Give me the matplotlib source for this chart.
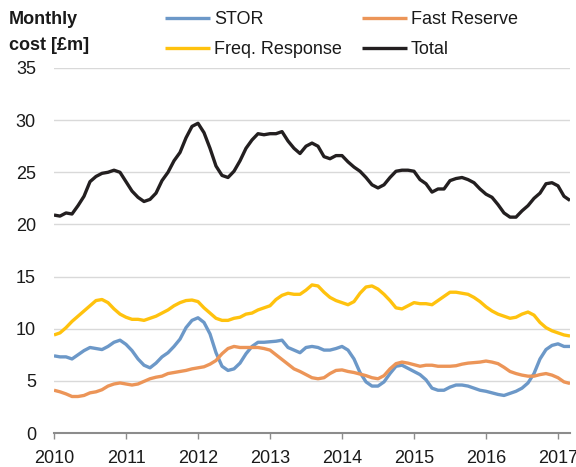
import numpy as np
import matplotlib
matplotlib.use("Agg")
import matplotlib.pyplot as plt
from matplotlib.ticker import FixedLocator

# Monthly values, Jan 2010 .. Mar 2017
start_year = 2010
stor = [7.4, 7.3, 7.3, 7.1, 7.5, 7.9, 8.2, 8.1, 8.0, 8.3, 8.7, 8.9,
        8.5, 7.9, 7.1, 6.5, 6.25, 6.7, 7.3, 7.7, 8.3, 9.0, 10.1, 10.8,
        11.05, 10.6, 9.5, 7.7, 6.4, 6.0, 6.15, 6.7, 7.6, 8.3, 8.7, 8.7,
        8.75, 8.8, 8.9, 8.2, 7.95, 7.7, 8.2, 8.3, 8.2, 7.95, 7.95, 8.1,
        8.3, 7.95, 7.1, 5.8, 4.9, 4.5, 4.5, 4.9, 5.7, 6.4, 6.5, 6.2,
        5.9, 5.6, 5.1, 4.3, 4.1, 4.1, 4.4, 4.6, 4.6, 4.5, 4.3, 4.1,
        4.0, 3.85, 3.7, 3.6, 3.8, 4.0, 4.3, 4.8, 5.7, 7.1, 8.0, 8.4,
        8.55, 8.3, 8.3]
fast_reserve = [4.1, 3.95, 3.75, 3.5, 3.5, 3.6, 3.85, 3.95, 4.15, 4.5, 4.7, 4.8,
                4.7, 4.6, 4.7, 4.95, 5.2, 5.35, 5.45, 5.7, 5.8, 5.9, 6.0, 6.15,
                6.25, 6.35, 6.6, 6.95, 7.6, 8.1, 8.3, 8.2, 8.2, 8.2, 8.2, 8.1,
                7.95, 7.5, 7.05, 6.6, 6.15, 5.9, 5.6, 5.3, 5.2, 5.3, 5.7, 6.0,
                6.05, 5.9, 5.8, 5.65, 5.5, 5.3, 5.2, 5.5, 6.15, 6.65, 6.8, 6.7,
                6.55, 6.4, 6.5, 6.5, 6.4, 6.4, 6.4, 6.45, 6.6, 6.7, 6.75, 6.8,
                6.9, 6.8, 6.65, 6.3, 5.9, 5.7, 5.55, 5.45, 5.45, 5.6, 5.7, 5.55,
                5.3, 4.9, 4.75]
freq_response = [9.4, 9.6, 10.1, 10.7, 11.2, 11.7, 12.2, 12.7, 12.8, 12.5, 11.9, 11.4,
                 11.1, 10.9, 10.9, 10.8, 11.0, 11.2, 11.5, 11.8, 12.2, 12.5, 12.7, 12.75,
                 12.6, 12.0, 11.5, 11.0, 10.8, 10.8, 11.0, 11.1, 11.4, 11.5, 11.8, 12.0,
                 12.2, 12.8, 13.2, 13.4, 13.3, 13.3, 13.7, 14.2, 14.1, 13.5, 13.0, 12.7,
                 12.5, 12.3, 12.6, 13.4, 14.0, 14.1, 13.8, 13.3, 12.7, 12.0, 11.9, 12.2,
                 12.5, 12.4, 12.4, 12.3, 12.7, 13.1, 13.5, 13.5, 13.4, 13.3, 13.0, 12.6,
                 12.1, 11.7, 11.4, 11.2, 11.0, 11.1, 11.4, 11.6, 11.3, 10.6, 10.1, 9.8,
                 9.6, 9.4, 9.3]
total = [20.9, 20.8, 21.1, 21.0, 21.8, 22.7, 24.1, 24.6, 24.9, 25.0, 25.2, 25.0,
         24.1, 23.2, 22.6, 22.2, 22.4, 23.0, 24.2, 25.0, 26.1, 26.9, 28.3, 29.4,
         29.7, 28.8, 27.3, 25.6, 24.7, 24.5, 25.1, 26.1, 27.3, 28.1, 28.7, 28.6,
         28.7, 28.7, 28.9, 28.0, 27.3, 26.8, 27.5, 27.8, 27.5, 26.5, 26.3, 26.6,
         26.6, 26.0, 25.5, 25.1, 24.5, 23.8, 23.5, 23.8, 24.5, 25.1, 25.2, 25.2,
         25.1, 24.3, 23.9, 23.1, 23.4, 23.4, 24.2, 24.4, 24.5, 24.3, 24.0, 23.4,
         22.9, 22.6, 21.9, 21.1, 20.7, 20.7, 21.3, 21.8, 22.5, 23.0, 23.9, 24.0,
         23.7, 22.7, 22.3]
year_ticks = [2010, 2011, 2012, 2013, 2014, 2015, 2016, 2017]
y_ticks = [0, 5, 10, 15, 20, 25, 30, 35]

series = [
    ("STOR", stor, "#6c98c8"),
    ("Fast Reserve", fast_reserve, "#ec9558"),
    ("Freq. Response", freq_response, "#ffc20e"),
    ("Total", total, "#231f20"),
]

plt.rcParams['font.family'] = ['Liberation Sans', 'DejaVu Sans']

fig = plt.figure(figsize=(5.76, 4.67), dpi=100)
ax = fig.add_axes([54/576, 1-433/467, (570-54)/576, (433-68)/467])

n = len(total)
x = start_year + np.arange(n) / 12.0

handles = {}
for name, vals, col in series:
    h, = ax.plot(x, vals, color=col, lw=2.4, solid_joinstyle='round',
                 solid_capstyle='butt', label=name, zorder=3)
    handles[name] = h

ax.set_xlim(start_year, x[-1])
ax.set_ylim(0, 35)
ax.xaxis.set_major_locator(FixedLocator(year_ticks))
ax.set_xticklabels([str(t) for t in year_ticks])
ax.yaxis.set_major_locator(FixedLocator(y_ticks))
ax.set_yticklabels([str(t) for t in y_ticks])

ax.grid(axis='y', color='#d9d9d9', lw=1.0, zorder=0)
ax.set_axisbelow(True)
for s in ['top', 'right', 'left']:
    ax.spines[s].set_visible(False)
ax.spines['bottom'].set_color('#8c8c8c')
ax.spines['bottom'].set_linewidth(1.5)
ax.spines['bottom'].set_zorder(4)

ax.tick_params(axis='x', direction='out', length=4, width=1.0, color='#8c8c8c',
               labelsize=13, pad=8, labelcolor='#1a1a1a')
ax.tick_params(axis='y', length=0, labelsize=13, pad=13, labelcolor='#1a1a1a')

fig.text(9/576, 1-20/467, "Monthly", fontsize=13, fontweight='bold',
         va='center', ha='left', color='#1a1a1a')
fig.text(9/576, 1-46/467, "cost [£m]", fontsize=13, fontweight='bold',
         va='center', ha='left', color='#1a1a1a')

# legend fills column-wise: column 1 = STOR, Freq. Response; column 2 = Fast Reserve, Total
order = ["STOR", "Freq. Response", "Fast Reserve", "Total"]
leg = fig.legend([handles[k] for k in order], order, ncol=2,
                 loc='upper left', bbox_to_anchor=(160/576, 1.0 - 6/467),
                 frameon=False, fontsize=13, handlelength=2.45,
                 handletextpad=0.25, columnspacing=1.12, labelspacing=0.7,
                 borderpad=0.3, borderaxespad=0)
for t in leg.get_texts():
    t.set_color('#1a1a1a')

fig.savefig("out.png", dpi=100)
